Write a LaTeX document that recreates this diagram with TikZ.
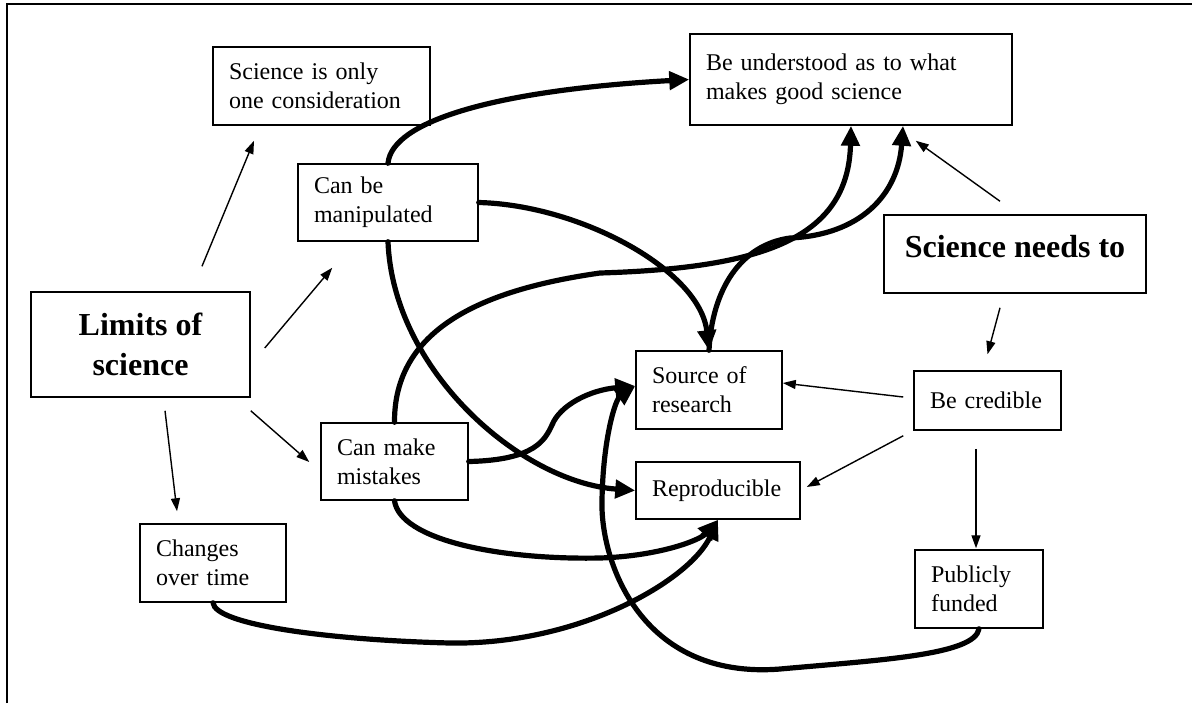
\documentclass[tikz,border=0pt]{standalone}
\usepackage{fontspec}
\setmainfont{Liberation Serif}
\usetikzlibrary{arrows.meta,calc}
\begin{document}
\begin{tikzpicture}[x=0.5pt,y=-0.5pt,
  box/.style={draw,line width=0.75pt,inner xsep=8pt,inner ysep=0pt,align=left,font=\fontsize{12pt}{14.5pt}\selectfont},
  title/.style={draw,line width=0.75pt,inner sep=0pt,align=center,font=\fontsize{16pt}{20pt}\selectfont\bfseries},
  thinarr/.style={line width=0.7pt,-{Triangle[length=6.5pt,width=4.5pt]}},
  thickarr/.style={line width=2.6pt,line cap=round,-{Triangle[length=10pt,width=9pt]}}]
\useasboundingbox (0,0) rectangle (1192,703);
\draw[line width=0.8pt] (7,703) -- (7,4) -- (1192,4);

\node[box,text width=92.5pt,minimum height=39pt] (sci1) at (321.5,86) {Science is only\\one consideration};
\node[box,text width=145pt,minimum height=45.5pt] (under) at (851,79.5) {Be understood as to what\\makes good science};
\node[box,text width=74pt,minimum height=38.5pt] (manip) at (388,202.5) {Can be\\manipulated};
\node[title,minimum width=131pt,minimum height=39pt] (needs) at (1015,254) {\raisebox{8pt}{Science needs to}};
\node[title,minimum width=109.5pt,minimum height=52.5pt] (limits) at (140.5,344.5) {Limits of\\science};
\node[box,text width=57pt,minimum height=39pt] (source) at (709,390) {Source of\\research};
\node[box,text width=57.5pt,minimum height=29.5pt] (cred) at (987.5,400.5) {Be credible};
\node[box,text width=57.5pt,minimum height=38.5pt] (mist) at (394.5,461.5) {Can make\\mistakes};
\node[box,text width=66pt,minimum height=28.5pt] (repro) at (718,490.5) {Reproducible};
\node[box,text width=57pt,minimum height=39pt] (changes) at (213,563) {Changes\\over time};
\node[box,text width=48pt,minimum height=39pt] (public) at (979,589) {Publicly\\funded};

\draw[thinarr] ($(limits.north)+(61.5,-25)$) -- ($(sci1.south)+(-67.5,15)$);
\draw[thinarr] ($(limits.east)+(14,3.5)$) -- ($(manip.south west)+(35,26)$);
\draw[thinarr] ($(limits.south east)+(0,13)$) -- ($(mist.west)+(-11,0.5)$);
\draw[thinarr] ($(limits.south)+(24.5,13)$) -- ($(changes.north)+(-36,-12)$);
\draw[thinarr] ($(needs.north)+(-15,-13)$) -- ($(under.south east)+(-97,15)$);
\draw[thinarr] ($(needs.south)+(-15,14)$) -- ($(cred.north)+(0,-16)$);
\draw[thinarr] ($(cred.west)+(-10,-3.5)$) -- ($(source.east)+(0,-7)$);
\draw[thinarr] ($(cred.south west)+(-10,5)$) -- ($(repro.east)+(6,-3.5)$);
\draw[thinarr] ($(cred.south)+(-11.5,18)$) -- ($(public.north)+(-3,-1)$);

\draw[thickarr] (manip.north) .. controls (392,120) and (500,90) .. (under.west);
\draw[thickarr] (manip.east) .. controls (580,205) and (700,270) .. (source.north);
\draw[thickarr] (manip.south) .. controls (393,370) and (520,482) .. (repro.west);
\draw[thickarr] (mist.north) .. controls (394,330) and (480,290) .. (600,273) .. controls (760,268) and (848,240) .. (under.south);
\draw[thickarr] (source.north) .. controls (712,290) and (740,245) .. (790,238) .. controls (860,235) and (898,195) .. ($(under.south)+(52,0)$);
\draw[thickarr] (mist.east) .. controls (535,460) and (545,440) .. (552,425) .. controls (560,405) and (590,390) .. ($(source.west)+(0,-4)$);
\draw[thickarr] (mist.south) .. controls (400,540) and (500,560) .. (600,558) .. controls (660,556) and (700,540) .. (repro.south);
\draw[thickarr] (changes.south) .. controls (215,625) and (330,640) .. (450,643) .. controls (580,645) and (690,580) .. (repro.south);
\draw[thickarr] (public.south) .. controls (975,655) and (880,660) .. (780,669) .. controls (640,680) and (600,560) .. (602,500) .. controls (603,440) and (615,400) .. ($(source.west)+(0,-4)$);
\end{tikzpicture}
\end{document}
